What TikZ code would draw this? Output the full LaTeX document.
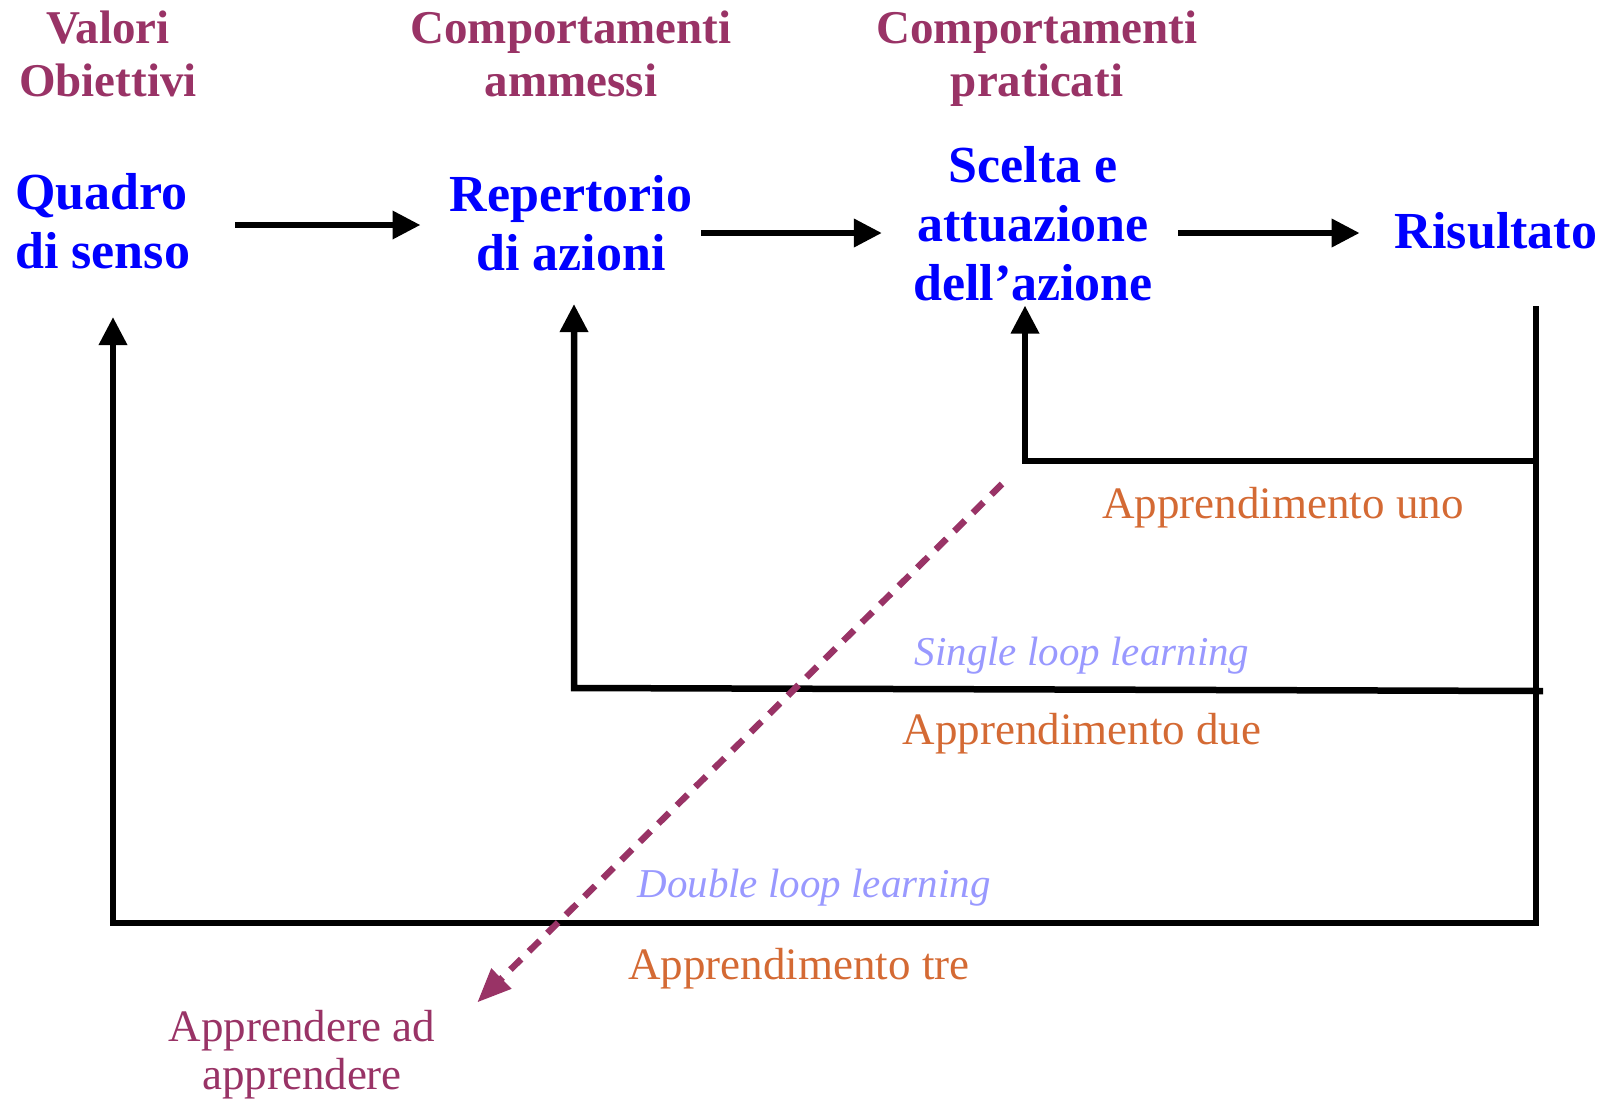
\documentclass[tikz,border=0pt]{standalone}
\usepackage{fontspec}
\setmainfont{Liberation Serif}
\usetikzlibrary{arrows.meta,calc}

\definecolor{headmaroon}{RGB}{153,51,102}
\definecolor{stageblue}{RGB}{0,0,255}
\definecolor{learnorange}{RGB}{212,106,52}
\definecolor{loopblue}{RGB}{153,153,255}

\begin{document}
\begin{tikzpicture}[x=1pt,y=-1pt,
  head/.style={font=\fontsize{47}{53}\selectfont\bfseries, text=headmaroon, inner sep=0pt, align=center},
  stage/.style={font=\fontsize{52}{59}\selectfont\bfseries, text=stageblue, inner sep=0pt, align=center},
  lab/.style={font=\fontsize{45}{48}\selectfont, text=learnorange, inner sep=0pt, anchor=base},
  looplab/.style={font=\fontsize{41}{48}\selectfont\itshape, text=loopblue, inner sep=0pt, anchor=base},
  wire/.style={line width=6.5pt, line join=miter},
  flow/.style={wire, -{Triangle[length=28pt,width=27pt]}},
  dashflow/.style={line width=6.5pt, draw=headmaroon, dash pattern=on 15pt off 11pt,
    -{Triangle[length=34pt,width=27pt]}}]

\useasboundingbox (0,0) rectangle (1616,1098);

% column headings
\node[head] (valori)    at (108,53.5)  {Valori\\Obiettivi};
\node[head] (ammessi)   at (571,53.5)  {Comportamenti\\ammessi};
\node[head] (praticati) at (1037,58.5) {Comportamenti\\praticati};

% stages of the action chain
\node[stage, align=left, anchor=west] (quadro) at (15,221) {Quadro\\di senso};
\node[stage] (repertorio) at (571,223)  {Repertorio\\di azioni};
\node[stage] (scelta)     at (1033,224) {Scelta e\\attuazione\\dell’azione};
\node[stage] (risultato)  at (1496,231) {Risultato};

% forward arrows
\draw[flow] ($(quadro.east)+(45,4)$) -- ($(quadro.east -| repertorio.west)+(-29,4)$);
\draw[flow] ($(repertorio.east)+(9,10)$) -- ($(repertorio.east -| scelta.west)+(-31,10)$);
\draw[flow] ($(scelta.east)+(25,9)$) -- ($(scelta.east -| risultato.west)+(-35,9)$);

% feedback loops
\coordinate (rtop) at (1536,306);
\coordinate (rbot) at (1536,923);
\coordinate (l3c)  at (113,923);
\coordinate (l1r)  at (1536,461);
\coordinate (l1c)  at (1025,461);
\coordinate (l2r)  at (1543,691);
\coordinate (l2c)  at (574,688);

\draw[flow] (rtop) -- (rbot) -- (l3c) -- ($(l3c |- quadro.south)+(0,48)$);
\draw[flow] (l1r) -- (l1c) -- ($(l1c |- scelta.south)+(0,4)$);
\draw[flow] (l2r) -- (l2c) -- ($(l2c |- repertorio.south)+(0,33)$);

% loop labels
\node[lab] (uno) at (1283,518) {Apprendimento uno};
\node[looplab] (single) at (1082,665) {Single loop learning};
\node[lab] (due) at (1082,744) {Apprendimento due};
\node[looplab] (double) at (814,897) {Double loop learning};
\node[lab] (tre) at (799,979) {Apprendimento tre};

% learning to learn
\node[font=\fontsize{45}{48}\selectfont, text=headmaroon, inner sep=0pt, align=center]
  (learn) at (302,1055) {Apprendere ad\\apprendere};
\coordinate (dstart) at (1002,484);
\draw[dashflow] (dstart) -- ($(learn.north east)+(42,-8)$);

\end{tikzpicture}
\end{document}
